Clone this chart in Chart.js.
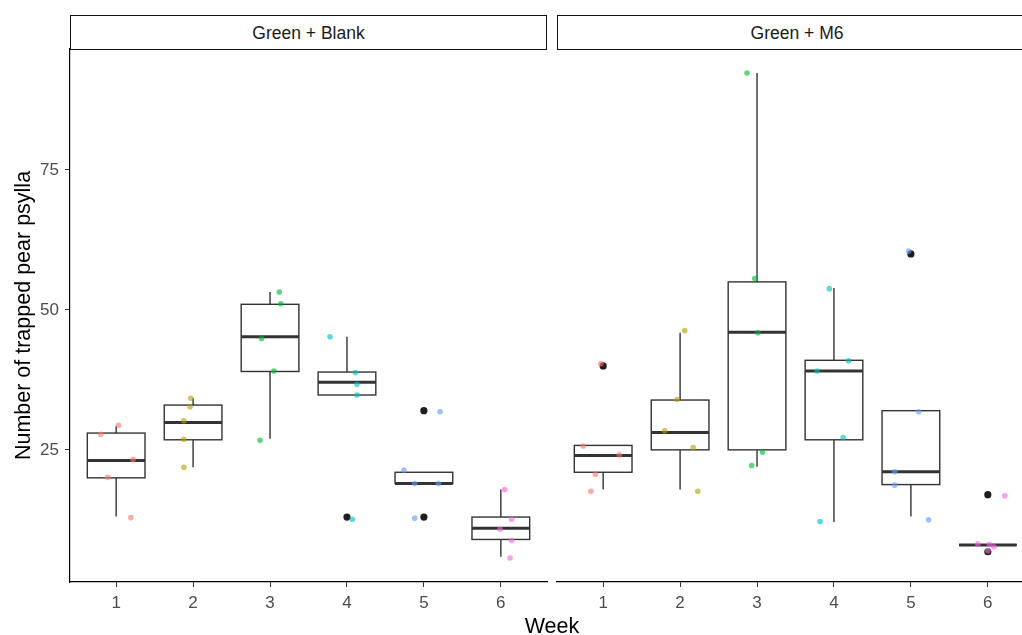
<!DOCTYPE html>
<html>
<head>
<meta charset="utf-8">
<script src="https://cdn.jsdelivr.net/npm/chart.js@4"></script>
<style>
	body { margin: 0; width: 1022px; height: 635px; overflow: hidden; background: #fff; position: relative; font-family: "Liberation Sans", Arial, sans-serif; }
	canvas { position: absolute; top: 0; }
	.strip { position: absolute; top: 15px; height: 35px; box-sizing: border-box; border: 1.6px solid #111; background: #fff; text-align: center; line-height: 34px; font-size: 17.5px; color: #1a1a1a; }
	#weekTitle { position: absolute; left: 452px; width: 200px; top: 613px; height: 26px; line-height: 26px; text-align: center; font-size: 21.5px; color: #000; }
</style>
</head>
<body>
<canvas id="BlankCanvas" width="560" height="635" style="left:0px"></canvas>
<canvas id="M6Canvas" width="500" height="635" style="left:547px"></canvas>
<div class="strip" style="left:70px;width:477px">Green + Blank</div>
<div class="strip" style="left:557px;width:480px">Green + M6</div>
<div id="weekTitle">Week</div>
<script>
// weeks on the x axis
var weeks = [1, 2, 3, 4, 5, 6];
var weekColors = ["248,118,109", "183,159,0", "0,186,56", "0,191,196", "97,156,255", "245,100,227"];
var yTicks = [25, 50, 75];

// box stats per week: [lower whisker, q1, median, q3, upper whisker]
var blankBoxes = [
	[13.1, 20.0, 23.1, 28.0, 29.2],
	[21.9, 26.8, 29.9, 33.0, 34.2],
	[27.0, 39.0, 45.2, 51.0, 53.2],
	[34.8, 34.8, 37.1, 38.9, 45.2],
	[19.0, 19.0, 19.0, 21.0, 21.0],
	[5.9, 9.0, 11.0, 13.0, 17.9]
];
var blankOutliers = [[], [], [], [13], [32, 13], []];
var blankPoints = [
	[27.8, 29.4, 23.3, 20.1, 12.9],
	[34.2, 32.7, 30.2, 26.9, 21.9],
	[53.2, 51.1, 44.9, 39.1, 26.7],
	[45.2, 38.8, 36.7, 34.8, 12.6],
	[31.8, 21.4, 19.0, 19.0, 12.8],
	[17.9, 12.6, 10.8, 8.8, 5.7]
];
var blankJitter = [
	[-0.20, 0.03, 0.22, -0.11, 0.19],
	[-0.03, -0.04, -0.12, -0.12, -0.12],
	[0.12, 0.14, -0.11, 0.05, -0.13],
	[-0.22, 0.11, 0.13, 0.13, 0.07],
	[0.21, -0.26, -0.12, 0.19, -0.12],
	[0.05, 0.14, -0.01, 0.14, 0.12]
];

var m6Boxes = [
	[17.9, 21.0, 24.0, 25.8, 25.8],
	[17.9, 25.0, 28.1, 33.9, 45.9],
	[22.0, 25.0, 46.0, 55.0, 92.3],
	[12.1, 26.8, 39.1, 41.0, 53.9],
	[13.1, 18.8, 21.1, 32.0, 32.0],
	[8.0, 8.0, 8.0, 8.0, 8.0]
];
var m6Outliers = [[40], [], [], [], [60], [17, 6.8]];
var m6Points = [
	[40.4, 25.7, 24.1, 20.6, 17.6],
	[46.3, 34.0, 28.4, 25.4, 17.6],
	[92.3, 55.6, 45.9, 24.6, 22.2],
	[53.8, 40.9, 39.1, 27.2, 12.2],
	[60.5, 31.8, 21.1, 18.7, 12.5],
	[16.8, 8.2, 8.1, 7.7, 7.0]
];
var m6Jitter = [
	[-0.03, -0.26, 0.21, -0.10, -0.16],
	[0.06, -0.04, -0.20, 0.17, 0.23],
	[-0.13, -0.03, 0.01, 0.07, -0.07],
	[-0.06, 0.19, -0.22, 0.12, -0.18],
	[-0.03, 0.10, -0.21, -0.21, 0.23],
	[0.22, -0.13, 0.02, 0.08, 0.00]
];

var boxPlugin = {
	id: 'boxplot',
	beforeDatasetsDraw: function(chart, args, opts) {
		var ctx = chart.ctx, xs = chart.scales.x, ys = chart.scales.y;
		ctx.save();
		ctx.strokeStyle = '#333333';
		opts.boxes.forEach(function(b, i) {
			var w = weeks[i];
			var x0 = xs.getPixelForValue(w - 0.375), x1 = xs.getPixelForValue(w + 0.375), xm = xs.getPixelForValue(w);
			var lo = ys.getPixelForValue(b[0]), q1 = ys.getPixelForValue(b[1]), med = ys.getPixelForValue(b[2]);
			var q3 = ys.getPixelForValue(b[3]), hi = ys.getPixelForValue(b[4]);
			ctx.lineWidth = 1.4;
			ctx.beginPath();
			ctx.moveTo(xm, q3); ctx.lineTo(xm, hi);
			ctx.moveTo(xm, q1); ctx.lineTo(xm, lo);
			ctx.stroke();
			ctx.fillStyle = '#fff';
			ctx.fillRect(x0, q3, x1 - x0, q1 - q3);
			ctx.strokeRect(x0, q3, x1 - x0, q1 - q3);
			ctx.lineWidth = 3;
			ctx.beginPath();
			ctx.moveTo(x0, med); ctx.lineTo(x1, med);
			ctx.stroke();
		});
		ctx.restore();
	}
};

function buildDatasets(points, jitter, outliers) {
	var sets = [];
	var out = [];
	weeks.forEach(function(w, i) {
		outliers[i].forEach(function(v) { out.push({x: w, y: v}); });
	});
	sets.push({data: out, pointRadius: 3.6, pointBackgroundColor: '#1e1e1e', pointBorderWidth: 0, order: 2});
	weeks.forEach(function(w, i) {
		sets.push({
			data: points[i].map(function(v, j) { return {x: w + jitter[i][j], y: v}; }),
			pointRadius: 2.8,
			pointBorderWidth: 0,
			pointBackgroundColor: 'rgba(' + weekColors[i] + ',0.62)',
			order: 1
		});
	});
	return sets;
}

function makeChart(canvasId, boxes, points, jitter, outliers, showY) {
	var ctx = document.getElementById(canvasId).getContext('2d');
	return new Chart(ctx, {
		type: 'scatter',
		data: {datasets: buildDatasets(points, jitter, outliers)},
		plugins: [boxPlugin],
		options: {
			responsive: false,
			animation: false,
			events: [],
			layout: {padding: {left: showY ? 0 : 10, top: 49, right: 13, bottom: 0}},
			plugins: {legend: {display: false}, tooltip: {enabled: false}, boxplot: {boxes: boxes}},
			scales: {
				x: {
					type: 'linear', min: 0.4, max: 6.6,
					afterBuildTicks: function(s) { s.ticks = weeks.map(function(v) { return {value: v}; }); },
					afterFit: function(s) { s.height = 53; },
					ticks: {color: '#4D4D4D', font: {family: 'Liberation Sans', size: 17}, padding: 6},
					grid: {drawOnChartArea: false, drawTicks: true, tickLength: 5, color: '#333'},
					border: {display: true, color: '#000', width: 1.2}
				},
				y: {
					display: showY,
					min: 1.4, max: 96.6,
					afterBuildTicks: function(s) { s.ticks = yTicks.map(function(v) { return {value: v}; }); },
					afterFit: function(s) { if (showY) s.width = 70; },
					ticks: {color: '#4D4D4D', font: {family: 'Liberation Sans', size: 17}, padding: 6},
					grid: {drawOnChartArea: false, drawTicks: true, tickLength: 5, color: '#333'},
					border: {display: true, color: '#000', width: 1.2},
					title: {
						display: true,
						text: 'Number of trapped pear psylla',
						color: '#000',
						font: {family: 'Liberation Sans', size: 21.5},
						padding: {top: 11, bottom: 0}
					}
				}
			}
		}
	});
}

makeChart('BlankCanvas', blankBoxes, blankPoints, blankJitter, blankOutliers, true);
makeChart('M6Canvas', m6Boxes, m6Points, m6Jitter, m6Outliers, false);
</script>
</body>
</html>
